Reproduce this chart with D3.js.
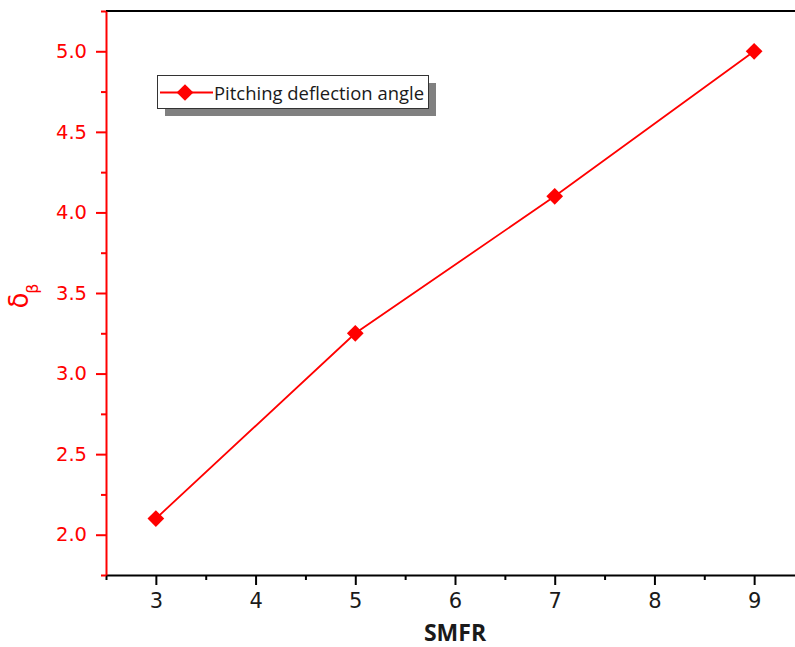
<!DOCTYPE html>
<html>
<head>
<meta charset="utf-8">
<script src="https://cdn.jsdelivr.net/npm/d3@7"></script>
<style>
  body { margin: 0; background: #fff; }
  svg { display: block; }
</style>
</head>
<body>
<div id="chart"></div>
<script>
// values
let smfr = [3, 5, 7, 9];
let deflection = [2.1, 3.25, 4.1, 5.0];
let xTicks = [3, 4, 5, 6, 7, 8, 9];
let yTicks = [2.0, 2.5, 3.0, 3.5, 4.0, 4.5, 5.0];
let seriesName = 'Pitching deflection angle';

let width = 795;
let height = 647;
let red = '#ff0000';

let svg = d3.select('#chart')
            .append('svg')
            .attr('width', width)
            .attr('height', height);

let x = d3.scaleLinear().domain([2.5, 9.5]).range([106, 804]);
let y = d3.scaleLinear().domain([1.75, 5.25]).range([575, 11]);

// top frame line
svg.append('line')
   .attr('x1', x(2.5)).attr('x2', width)
   .attr('y1', y(5.25)).attr('y2', y(5.25))
   .attr('stroke', '#000').attr('stroke-width', 2);

// minor ticks first, major on top
let xMinor = d3.range(2.5, 9.6, 1);
svg.append('g')
   .attr('transform', `translate(0, ${y(1.75)})`)
   .call(d3.axisBottom(x).tickValues(xMinor).tickSize(5).tickFormat(''))
   .call(g => g.select('.domain').remove())
   .selectAll('line').attr('stroke', '#000').attr('stroke-width', 2);

let xAxis = svg.append('g')
   .attr('transform', `translate(0, ${y(1.75)})`)
   .call(d3.axisBottom(x).tickValues(xTicks).tickSize(10).tickSizeOuter(0).tickPadding(8).tickFormat(d3.format('d')));
xAxis.select('.domain').attr('stroke', '#000').attr('stroke-width', 2);
xAxis.selectAll('.tick line').attr('stroke', '#000').attr('stroke-width', 2);
xAxis.selectAll('text')
     .attr('fill', '#1a1a1a')
     .attr('font-family', 'DejaVu Sans')
     .attr('font-size', 21);

let yMinor = d3.range(1.75, 5.3, 0.5);
svg.append('g')
   .attr('transform', `translate(${x(2.5)}, 0)`)
   .call(d3.axisLeft(y).tickValues(yMinor).tickSize(5).tickFormat(''))
   .call(g => g.select('.domain').remove())
   .selectAll('line').attr('stroke', red).attr('stroke-width', 2);

let yAxis = svg.append('g')
   .attr('transform', `translate(${x(2.5)}, 0)`)
   .call(d3.axisLeft(y).tickValues(yTicks).tickSize(10).tickSizeOuter(0).tickPadding(9).tickFormat(d3.format('.1f')));
yAxis.select('.domain').attr('stroke', red).attr('stroke-width', 2);
yAxis.selectAll('.tick line').attr('stroke', red).attr('stroke-width', 2);
yAxis.selectAll('text')
     .attr('fill', red)
     .attr('font-family', 'DejaVu Sans')
     .attr('font-size', 19.5);

// axis titles
svg.append('text')
   .attr('x', 455).attr('y', 641)
   .attr('text-anchor', 'middle')
   .attr('font-family', 'Open Sans')
   .attr('font-weight', 'bold')
   .attr('font-size', 23)
   .attr('fill', '#1a1a1a')
   .text('SMFR');

let yTitle = svg.append('text')
   .attr('transform', 'translate(28, 296) rotate(-90)')
   .attr('text-anchor', 'middle')
   .attr('font-family', 'DejaVu Sans')
   .attr('fill', red);
yTitle.append('tspan').attr('font-size', 26).text('δ');
yTitle.append('tspan').attr('font-size', 16).attr('dy', 10).attr('dx', -1).text('β');

// series
let points = smfr.map((d, i) => [d, deflection[i]]);
let line = d3.line().x(d => x(d[0])).y(d => y(d[1]));

svg.append('path')
   .datum(points)
   .attr('d', line)
   .attr('fill', 'none')
   .attr('stroke', red)
   .attr('stroke-width', 1.8);

let diamond = d3.symbol().type(d3.symbolSquare).size(140);
svg.selectAll('.marker')
   .data(points)
   .enter().append('path')
   .attr('class', 'marker')
   .attr('d', diamond)
   .attr('transform', d => `translate(${x(d[0])}, ${y(d[1])}) rotate(45)`)
   .attr('fill', red);

// legend
let legend = svg.append('g').attr('transform', 'translate(157, 75)');
legend.append('rect')
      .attr('x', 8).attr('y', 8)
      .attr('width', 271).attr('height', 33)
      .attr('fill', '#808080');
legend.append('rect')
      .attr('x', 0.5).attr('y', 0.5)
      .attr('width', 271).attr('height', 33)
      .attr('fill', '#fff')
      .attr('stroke', '#333').attr('stroke-width', 1);
legend.append('line')
      .attr('x1', 3).attr('x2', 56)
      .attr('y1', 17.5).attr('y2', 17.5)
      .attr('stroke', red).attr('stroke-width', 1.8);
legend.append('path')
      .attr('d', diamond)
      .attr('transform', 'translate(28, 17.5) rotate(45)')
      .attr('fill', red);
legend.append('text')
      .attr('x', 57).attr('y', 24.5)
      .attr('font-family', 'Open Sans')
      .attr('font-size', 18)
      .attr('fill', '#1a1a1a')
      .attr('textLength', 210)
      .attr('lengthAdjust', 'spacingAndGlyphs')
      .text(seriesName);
</script>
</body>
</html>
